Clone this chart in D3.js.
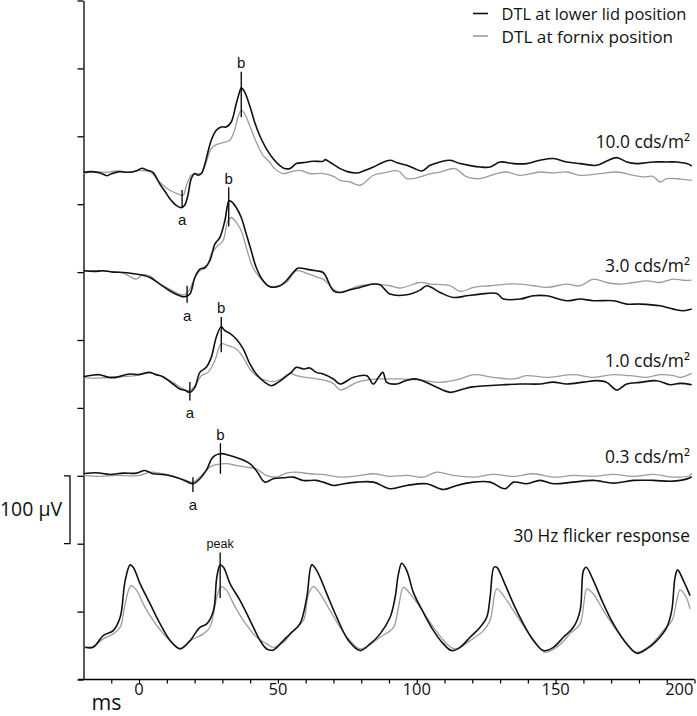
<!DOCTYPE html>
<html><head><meta charset="utf-8">
<script src="https://cdn.jsdelivr.net/npm/d3@7"></script>
<style>body{margin:0;background:#fff}</style>
</head><body><svg id="c" width="697" height="716"></svg>
<script>
// ---------- DATA ----------
const timeTicks = [0, 50, 100, 150, 200];
const minorTicks = d3.range(-10, 201, 10);
const seriesNames = ["DTL at lower lid position", "DTL at fornix position"];
const conditions = ["10.0 cds/m²", "3.0 cds/m²", "1.0 cds/m²", "0.3 cds/m²", "30 Hz flicker response"];
const offsets = [747, 599, 446, 302, 47];   // µV level of each trace on the stacked axis
const scaleBar = [200, 300];                 // 100 µV bar

const lid10 = [[-20,0],[-17,1],[-14,-1],[-11.5,-5],[-10,-2],[-7,1],[-4,0],[-1,2],[1,6],[3,3],[5,0],[7.4,-16.7],[9.3,-28],[11.1,-38.8],[13.4,-48.6],[15.2,-52],[16.4,-48.6],[17.6,-33.9],[18.8,-9.3],[20.1,-1.9],[21.2,-4.4],[22.4,-1.9],[23.6,10.3],[24.8,29.9],[26.0,47.1],[27.8,61.9],[29.6,66.8],[31.4,66.8],[33.2,74.1],[35.0,101.2],[36.2,118.4],[36.8,124.3],[38.0,118.4],[39.8,98.7],[41.6,74.1],[43.4,54.5],[45.8,34.9],[48.3,20.1],[50.6,10.3],[51.9,6.4],[54.3,5.4],[56.6,12.8],[59.1,14.2],[62.7,16.2],[66.3,16.2],[67,18.7],[69,14],[72.4,5.4],[75,1],[78.4,-1.0],[80.8,1.9],[84.4,7.8],[87,13],[90.4,17.7],[93,14],[96.4,10.3],[99,6],[101.8,1.9],[104.8,10.3],[108.4,15.2],[112.0,17.7],[115.6,12.8],[119,10],[122.8,7.8],[126.4,7.8],[130.0,15.2],[134.8,12.8],[139.6,12.8],[144.4,17.7],[149.2,20.2],[154.0,15.2],[158.8,12.8],[164.8,10.3],[168.4,16.6],[172.0,21.6],[175.6,15.2],[179.2,12.8],[185.2,15.2],[190.0,15.2],[193.6,15.2],[197.2,12.8],[199,9.3]];
const fornix10 = [[-20,-2],[-16,1],[-12,0],[-8,2],[-4,0],[0,3],[4,0.4],[7.4,-14.2],[11.1,-26.5],[14.7,-32.9],[15.9,-33.9],[17.1,-19.1],[18.8,-4.4],[20.6,-1.9],[22.4,-1.9],[24.2,15.2],[26.0,34.9],[27.8,40.8],[30.2,43.7],[32.6,47.1],[34.4,61.9],[35.6,81.5],[36.8,91.3],[38.0,86.5],[39.8,69.2],[42.2,44.6],[44.6,25.0],[47.0,15.2],[48.8,5.4],[51.9,-1.9],[54.3,0.4],[57.9,2.9],[61.5,-1.9],[66.3,-1.9],[70,-6],[72.4,-11.8],[76,-14.3],[79.6,-19.1],[84.4,-4.4],[88,-1],[93.4,1.9],[96.4,-9.3],[101.2,-6.9],[104,-3],[108.4,0.4],[113.8,5.4],[118.0,-6.9],[122.8,-9.3],[128.8,-1.9],[132.4,0.4],[137.2,-4.4],[144.4,0.4],[149,-1],[154.0,0.4],[158.8,-4.4],[166.0,-1.9],[172.0,0.4],[178.0,-4.4],[181.6,-6.9],[185,-6],[187.6,-14.3],[190.0,-9.3],[195,-10],[199,-11.8]];

const lid3 = [[-20,2.9],[-16,2],[-13,2.9],[-9,1],[-5.8,0.4],[-1,-1.9],[3.9,-6.9],[7.5,-16.6],[11.0,-26.5],[14.7,-33.9],[16.5,-35.3],[18.3,-31.4],[20.1,-6.9],[21.9,5.4],[23.7,7.8],[25.5,17.7],[27.3,42.3],[29.1,52.0],[30.9,76.6],[32.4,106.0],[33.2,105.0],[35.0,96.2],[36.8,81.4],[38.6,57.0],[40.4,32.4],[42.2,7.8],[44.7,-11.8],[47.1,-20.6],[50.7,-19.1],[53.0,-11.8],[55.5,0.4],[57.3,6.9],[60.2,5.4],[63.8,2.9],[66.3,0.4],[70.0,-26.5],[72.4,-29.0],[76,-25],[79.6,-21.6],[84.4,-16.6],[86.8,-17.7],[90.4,-31.4],[96.4,-32.4],[101.2,-25.5],[103.6,-19.1],[108.4,-29.0],[113.2,-36.4],[118.0,-33.9],[122.8,-31.4],[128.8,-30.5],[131.2,-38.7],[137.2,-38.7],[142.0,-33.9],[146.8,-33.9],[154.0,-41.2],[158.8,-38.7],[163.6,-41.2],[170.8,-41.2],[175.6,-46.1],[180.4,-46.1],[187.6,-48.6],[192.4,-53.5],[196.0,-56.0],[199,-53.5]];
const fornix3 = [[-20,2.9],[-13,2.9],[-9,1],[-5.8,0],[-1.0,-9.3],[1.4,-2.9],[4,-5],[7.5,-16.6],[11.0,-24.0],[14.7,-31.4],[16.5,-32.4],[18.3,-24.0],[20.1,-6.9],[21.9,2.9],[24.2,7.8],[26.0,27.5],[27.8,37.3],[30.2,47.1],[32.0,76.6],[33.2,81.4],[35.0,74.1],[36.8,61.9],[38.6,37.3],[41.0,7.8],[43.5,-6.9],[46.5,-19.1],[49.4,-20.6],[53.0,-14.3],[56.6,2.9],[59.7,0.4],[63.8,-5.9],[66.3,-9.3],[70.0,-24],[72.4,-29.0],[76,-24],[79.6,-19.1],[84.4,-16.6],[90.4,-19.1],[94.0,-22.5],[101.2,-14.3],[104.8,-16.6],[112.0,-19.1],[115.6,-27.5],[120.4,-21.6],[126.4,-19.1],[132.4,-16.6],[137.2,-16.6],[142.0,-19.1],[146.8,-21.6],[154.0,-16.6],[158.8,-19.1],[163.6,-9.3],[168.4,-14.3],[173.2,-16.6],[178.0,-14.3],[182.8,-11.8],[187.6,-14.3],[192.4,-9.3],[196,-11],[199,-10.8]];

const lid1 = [[-20,0],[-17,2],[-14.2,2.9],[-11,-1],[-8.2,-1.0],[-5.5,2],[-3.3,4.0],[0,3],[3.9,6.3],[6,3],[8.6,0],[12.2,-10.8],[14.7,-18.1],[16.5,-20],[18.3,-23.1],[20.1,-15.8],[21.9,6.3],[24.2,13.7],[26.0,28.4],[27.8,57.9],[29.6,73.6],[30.9,67.7],[32.7,63.8],[35.0,55.5],[37.5,40.8],[39.9,18.7],[42.2,4.0],[45.3,-8.4],[47.6,-13.3],[50.1,-8.4],[52.5,-1.0],[54.8,6.3],[56.6,13.7],[59.1,11.3],[61.5,12.8],[63.8,6.3],[66.3,4.0],[70.0,-3.4],[72.4,-10.8],[77.2,-1.0],[82.0,1.5],[84.4,-10.8],[86.2,-1.0],[87.8,6.3],[89.2,-8.4],[92.8,-10.8],[96,-6],[100.0,-3.4],[106.0,-13.3],[112.0,-23.1],[116.8,-18.1],[120,-15],[125.2,-13.3],[131.2,-11.8],[137.2,-10.8],[144.4,-10.8],[149,-8],[154.0,-10.8],[160,-8],[164.8,-5.9],[168.4,-8.4],[172.0,-19.6],[175.6,-10.8],[180.4,-8.4],[186.4,-5.9],[191.2,-11.8],[194.8,-9.9],[199,-11.8]];
const fornix1 = [[-20,-1.9],[-13.0,-1.9],[-9,0],[-5.8,0],[-1,2],[2.6,6.3],[7.5,1.5],[12.2,-8.4],[15.8,-18.1],[18.3,-20.6],[20.1,-13.3],[22.4,1.5],[24.8,6.3],[27.3,23.6],[29.6,48.2],[32.0,45.7],[35.0,40.8],[37.5,28.4],[39.9,11.3],[42.2,1.5],[45.3,-4.9],[48.3,-7.4],[51.2,-3.4],[54.3,4.9],[56.6,1.5],[61.5,-1.9],[66.3,-4.9],[70.0,-10.3],[72.4,-19.6],[78.4,-8.4],[82,-5],[86.8,-3.4],[94.0,-3.4],[101.2,-4.9],[108.4,-8.4],[115.6,-3.4],[120.4,2.9],[127.6,-1.0],[134.8,-3.4],[139.6,1.5],[146.8,-1.0],[156.4,2.9],[163.6,-1.0],[170.8,2.9],[176.8,1.5],[182.8,-1.0],[187.6,2.9],[192.4,1.5],[194.8,-1.0],[199,4.9]];

const lid03 = [[-20,1.0],[-15.4,2.5],[-10.6,0],[-5.8,1.9],[-1.0,1.9],[2.1,5.9],[5.0,1.0],[8.6,0],[12.2,-2.9],[15.8,-7.8],[19.4,-13.7],[21.9,-6.3],[24.2,5.9],[26.6,25.5],[29.1,30.5],[32.7,28.0],[36.3,23.1],[39.9,15.8],[42.2,5.9],[45.3,-11.3],[48.3,-6.3],[51.9,-4.9],[55.5,-4.0],[59.1,-8.8],[63.8,-8.8],[66.3,-11.3],[70.0,-16.2],[72.4,-14.7],[78.4,-11.3],[84.4,-11.3],[90.4,-21.1],[96.4,-16.2],[103.6,-13.7],[109.6,-22.1],[114.4,-16.2],[120.4,-11.3],[126.4,-11.3],[131.8,-21.1],[134.8,-11.3],[139.6,-13.7],[144.4,-8.8],[149.2,-13.7],[156.4,-11.3],[163.6,-8.8],[170.8,-12.8],[178.0,-8.8],[185.2,-8.8],[192.4,-9.9],[198.4,-4.9],[199,-3]];
const fornix03 = [[-20,-1.5],[-14.2,-2.9],[-8.2,-1.5],[0.3,-1.5],[3.9,3.4],[8.6,1.0],[13.4,-4.0],[17.0,-8.8],[19.4,-11.3],[22.4,-1.5],[25.5,10.8],[27.8,14.3],[31.4,15.8],[35.0,13.3],[38.6,10.8],[42.2,8.4],[45.8,-1.5],[49.4,-4.0],[53.0,1.9],[56.6,3.4],[61.5,1.0],[66.3,0],[72.4,-4.0],[79.6,-1.5],[84.4,1.0],[90.4,-2.9],[96.4,-1.5],[102.4,-4.0],[107.2,3.4],[113.2,-1.5],[120.4,-4.0],[127.6,0],[134.8,-2.9],[142.0,1.0],[149.2,-4.0],[156.4,-1.5],[163.6,-2.9],[170.8,0],[178.0,-2.9],[185.2,0],[192.4,-4.0],[198.4,-1.5],[199,2]];

const lidFlicker = [[-19.4,0.4],[-16.5,0.4],[-12.9,17.7],[-9.3,25.0],[-6.8,44.6],[-5.0,98.7],[-3.2,121.8],[-2.1,118.3],[0.4,93.8],[4.0,64.3],[7.6,34.9],[11.2,10.3],[14.8,-2.0],[18.4,10.3],[21.9,29.9],[24.4,34.9],[26.8,54.5],[28.0,103.6],[29.2,121.8],[30.4,118.3],[32.8,93.8],[36.4,69.2],[40.0,39.8],[43.6,10.3],[46.0,-2.0],[48.4,-3.4],[50.8,5.4],[54.3,20.1],[57.9,34.9],[60.4,74.1],[62.2,121.8],[64.0,113.4],[67.6,79.1],[71.2,44.6],[75.4,10.3],[79.6,-4.4],[83.2,5.4],[86.8,20.2],[90.4,44.6],[92.2,74.1],[93.4,108.5],[94.6,124.1],[96.4,113.4],[98.8,81.0],[102.4,51.5],[106.0,25.0],[109.6,5.4],[112.6,-4.4],[115.6,0.4],[119.2,15.2],[122.8,29.9],[125.2,44.6],[126.4,74.1],[127.8,118.3],[128.8,118.3],[131.2,98.7],[134.8,64.4],[138.4,34.9],[142.0,10.3],[145.6,-4.4],[149.2,0.4],[152.8,15.2],[156.4,29.9],[158.8,54.5],[160.0,113.4],[161.0,118.3],[163.6,98.7],[167.2,64.4],[170.8,34.9],[175.6,5.4],[179.2,-8.4],[182.8,-1.9],[186.4,10.3],[190.0,29.9],[191.8,54.5],[193.0,103.5],[193.9,114.4],[196.0,98.7],[198.4,76.6]];
const fornixFlicker = [[-19.4,0.4],[-16.5,2],[-12.9,12.8],[-9.3,20.2],[-6.8,29.9],[-5.0,64.4],[-2.9,91.3],[-0.8,83.9],[1.5,64.4],[5.1,39.8],[8.8,20.2],[12.4,5.4],[14.8,-1.0],[18.4,10.3],[23.2,20.2],[25.5,29.9],[28.0,74.1],[29.5,89.8],[31.6,83.9],[34.0,64.4],[37.6,39.8],[42.4,15.2],[46.0,5.4],[48.4,0.4],[52.0,7.8],[55.6,25.0],[59.2,39.8],[61.0,79.1],[62.8,89.8],[65.2,79.1],[68.8,54.5],[72.4,29.9],[76.0,10.3],[79.6,-1.9],[86.8,15.2],[91.6,29.9],[93.4,59.4],[95.2,88.8],[97.6,79.1],[101.2,59.4],[106.0,29.9],[110.8,5.4],[113.8,-1.9],[119.2,10.3],[124.0,25.0],[126.4,39.8],[128.8,86.4],[131.2,76.6],[134.8,54.5],[139.6,25.0],[143.2,5.4],[146.2,-6.9],[150.4,0.4],[155.2,20.2],[158.8,34.9],[160.3,69.2],[161.2,86.4],[163.6,79.0],[167.2,54.5],[172.0,25.0],[176.8,0.4],[179.2,-6.9],[184.0,2.9],[188.8,25.0],[191.9,39.8],[193.6,69.2],[194.8,85.0],[197.0,74.1],[198.4,57.0]];

const lidSeries = [lid10, lid3, lid1, lid03, lidFlicker];
const fornixSeries = [fornix10, fornix3, fornix1, fornix03, fornixFlicker];

// wave markers: [condition index, latency ms, top µV, bottom µV]
const aWave = [[0, 15.5, -26, -51], [1, 17.3, -19, -44], [2, 18.3, -8, -35], [3, 19.4, -4, -26]];
const bWave = [[0, 36.8, 148, 81], [1, 32.3, 126, 68], [2, 29.6, 88, 36], [3, 29.3, 46, 1]];
const peakMark = [[4, 29.2, 140, 73]];

// ---------- DRAW ----------
const svg = d3.select('#c');
const x = d3.scaleLinear().domain([-20, 200]).range([83.5, 694.5]);
const y = d3.scaleLinear().domain([0, 1000]).range([679.5, 0.5]);
const SANS = "'Open Sans', 'Noto Sans', sans-serif";
const ARIAL = "'Liberation Sans', Arial, sans-serif";

function fitWidth(sel, w) {
  sel.each(function () {
    const L = this.getComputedTextLength();
    const fs = parseFloat(this.getAttribute('font-size'));
    this.setAttribute('font-size', (fs * w / L).toFixed(2));
  });
}

// y axis
const yAxis = svg.append('g').attr('transform', 'translate(83.5,0)')
  .call(d3.axisLeft(y).tickValues(d3.range(0, 1001, 100)).tickSize(6).tickSizeOuter(0).tickFormat(''));
yAxis.selectAll('path,line').attr('stroke', '#000').attr('stroke-width', 1.3);

// x axis
const xAxis = svg.append('g').attr('transform', 'translate(0,679.5)')
  .call(d3.axisBottom(x).tickValues(minorTicks).tickSize(4).tickSizeOuter(0).tickFormat(''));
xAxis.select('.domain').remove();
xAxis.selectAll('line').attr('stroke', '#000').attr('stroke-width', 1.2);
svg.append('line').attr('x1', x.range()[0] - 5.5).attr('x2', x(200)).attr('y1', 679.5).attr('y2', 679.5)
  .attr('stroke', '#000').attr('stroke-width', 1.3);

svg.append('g').selectAll('text').data(timeTicks).join('text')
  .attr('x', (d, i) => i === timeTicks.length - 1 ? x(d) - 1 : x(d))
  .attr('y', 695)
  .attr('text-anchor', (d, i) => i === timeTicks.length - 1 ? 'end' : 'middle')
  .attr('font-family', SANS).attr('font-size', 16.5).attr('fill', '#111')
  .text(d => d);

const msLabel = svg.append('text').attr('x', 91.5).attr('y', 710).attr('font-family', SANS)
  .attr('font-size', 22).attr('fill', '#111').text('ms');
fitWidth(msLabel, 30);

// scale bar
svg.append('path')
  .attr('d', `M64,${y(scaleBar[1])}H70V${y(scaleBar[0])}H64`)
  .attr('fill', 'none').attr('stroke', '#000').attr('stroke-width', 1.3);
const sbLabel = svg.append('text').attr('x', 0).attr('y', 516).attr('font-family', SANS)
  .attr('font-size', 18).attr('fill', '#111').text('100 µV');
fitWidth(sbLabel, 62);

// traces
const line = off => d3.line().curve(d3.curveCatmullRom.alpha(0.5))
  .x(d => x(d[0])).y(d => y(off + d[1]));
fornixSeries.forEach((s, i) => {
  svg.append('path').datum(s).attr('d', line(offsets[i])).attr('fill', 'none')
    .attr('stroke', '#9c9c9c').attr('stroke-width', 1.3).attr('stroke-linejoin', 'round');
});
lidSeries.forEach((s, i) => {
  svg.append('path').datum(s).attr('d', line(offsets[i])).attr('fill', 'none')
    .attr('stroke', '#111').attr('stroke-width', 1.6).attr('stroke-linejoin', 'round');
});

// markers
function marks(arr, label, below) {
  const g = svg.append('g');
  g.selectAll('line').data(arr).join('line')
    .attr('x1', d => x(d[1])).attr('x2', d => x(d[1]))
    .attr('y1', d => y(offsets[d[0]] + d[2])).attr('y2', d => y(offsets[d[0]] + d[3]))
    .attr('stroke', '#000').attr('stroke-width', 1.3);
  g.selectAll('text').data(arr).join('text')
    .attr('x', d => x(d[1]))
    .attr('y', d => below ? y(offsets[d[0]] + d[3]) + 18 : y(offsets[d[0]] + d[2]) - (label === 'peak' ? 5 : 3.5))
    .attr('text-anchor', 'middle').attr('font-family', ARIAL)
    .attr('font-size', label === 'peak' ? 12.5 : 15).attr('fill', '#111')
    .text(label);
}
marks(aWave, 'a', true);
marks(bWave, 'b', false);
marks(peakMark, 'peak', false);

// condition labels
const condY = [148, 271.5, 366.5, 463, 542];
const condW = [94.3, 85, 85, 85, 176.7];
conditions.forEach((c, i) => {
  const t = svg.append('text').attr('x', 690).attr('y', condY[i]).attr('text-anchor', 'end')
    .attr('font-family', SANS).attr('font-size', 17).attr('fill', '#111').text(c);
  fitWidth(t, condW[i]);
});

// legend
const legColors = ['#111', '#9c9c9c'];
const legW = [185, 171.7];
seriesNames.forEach((n, i) => {
  const cy = 13.5 + i * 22.5;
  svg.append('line').attr('x1', 473).attr('x2', 488).attr('y1', cy).attr('y2', cy)
    .attr('stroke', legColors[i]).attr('stroke-width', 1.6);
  const t = svg.append('text').attr('x', 501.5).attr('y', cy + 6.5).attr('font-family', SANS)
    .attr('font-size', 18).attr('fill', '#111').text(n);
  fitWidth(t, legW[i]);
});
</script></body></html>
